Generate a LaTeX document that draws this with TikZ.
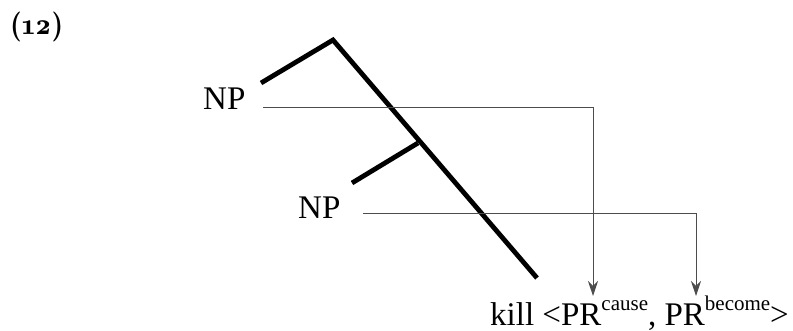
\documentclass[tikz,border=0pt]{standalone}
\usepackage{fontspec}
\setmainfont{Liberation Serif}
\newfontfamily\osf{lmromandemi10-regular.otf}[Numbers=OldStyle]
\usetikzlibrary{arrows.meta}
\newcommand{\supx}[1]{\raisebox{16pt}{\fontsize{21}{24}\selectfont #1}}
\begin{document}
\begin{tikzpicture}[x=1pt,y=-1pt,
  treeline/.style={line width=4.8pt},
  linkline/.style={draw=black!70,line width=0.9pt,-{Stealth[length=15pt,width=10pt]}},
  lbl/.style={font=\fontsize{33}{38}\selectfont,inner sep=0pt,anchor=base west,text depth=0pt}]
\useasboundingbox (0,0) rectangle (793,331);
\node[font={\fontsize{30}{34}\selectfont\osf},inner sep=0pt,anchor=base west] (num) at (10,35) {(12)};
% tree
\coordinate (top) at (333,40);
\coordinate (l1) at (261,83);
\coordinate (bot) at (537,278);
\coordinate (j2) at (418,143);
\coordinate (l2) at (352,183);
\draw[treeline] (l1) -- (top) -- (bot);
\draw[treeline] (l2) -- (j2);
\node[lbl] (np1) at (203,110) {NP};
\node[lbl] (np2) at (298,219) {NP};
\node[lbl] (kill) at (490,326) {kill <PR\supx{cause}, PR\supx{become}>};
\coordinate (t1) at (593,296);
\coordinate (t2) at (696,296);
\coordinate (s1) at (263,107);
\coordinate (s2) at (363,213);
\draw[linkline] (s1) -| (t1);
\draw[linkline] (s2) -| (t2);
\end{tikzpicture}
\end{document}
